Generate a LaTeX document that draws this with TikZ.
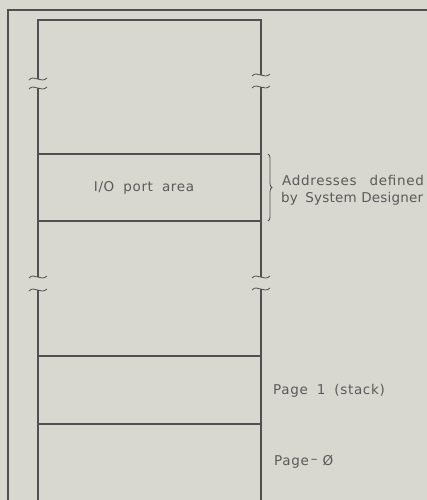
\documentclass[tikz,border=0pt]{standalone}
\usepackage{fontspec}
\setmainfont{DejaVu Sans}[LetterSpace=5]
\usetikzlibrary{decorations.pathreplacing}
\definecolor{bgc}{HTML}{D9D8D0}
\definecolor{ink}{HTML}{505050}
\definecolor{txt}{HTML}{5A5A5A}
\tikzset{
  ln/.style={draw=ink, line width=1.1pt},
  thin/.style={draw=ink, line width=0.8pt},
  lbl/.style={text=txt, font=\fontsize{13.5}{15}\selectfont, inner sep=0pt},
  tight/.style={font=\fontsize{13.5}{15}\selectfont\addfontfeature{LetterSpace=1.5}},
}
\newcommand{\brk}[2]{% x, y : tilde mark centred at (x,y)
  \draw[thin] (#1-9,#2+1) .. controls (#1-4,#2-5) and (#1+3,#2+5) .. (#1+9,#2-1);}
\begin{document}
\begin{tikzpicture}[x=1pt,y=-1pt]
\fill[bgc] (0,0) rectangle (427,500);
\useasboundingbox (0,0) rectangle (427,500);
% outer frame
\draw[ln] (8,500) -- (8,10) -- (427,10);
% memory column
\draw[ln] (38,79) -- (38,20) -- (261,20) -- (261,75);
\draw[ln] (38,88) -- (38,277);
\draw[ln] (261,87) -- (261,277);
\draw[ln] (38,290) -- (38,500);
\draw[ln] (261,289) -- (261,500);
\brk{38}{79}\brk{38}{88}
\brk{261}{75}\brk{261}{87}
\brk{38}{277}\brk{38}{290}
\brk{261}{277}\brk{261}{289}
% dividers
\draw[ln] (38,154) -- (261,154);
\draw[ln] (38,221) -- (261,221);
\draw[ln] (38,356) -- (261,356);
\draw[ln] (38,424) -- (261,424);
% labels
\node[lbl] (io) at (144,188) {I/O\hspace{4pt} port\hspace{4pt} area};
\draw[thin, decoration={brace, amplitude=4pt}, decorate] (268,154) -- (268,221);
\node[lbl, anchor=base west] (addr1) at (282,185) {Addresses\hspace{8pt} defined};
\node[lbl, tight, anchor=base west] (addr2) at (281,202) {by\hspace{3pt} System Designer};
\node[lbl, anchor=west] (p1) at (273,391) {Page\hspace{4pt} 1\hspace{4pt} (stack)};
\node[lbl, anchor=west] (p0) at (274,462) {Page\hspace{2pt}\raisebox{2pt}{–}\hspace{5pt}Ø};
\end{tikzpicture}
\end{document}
